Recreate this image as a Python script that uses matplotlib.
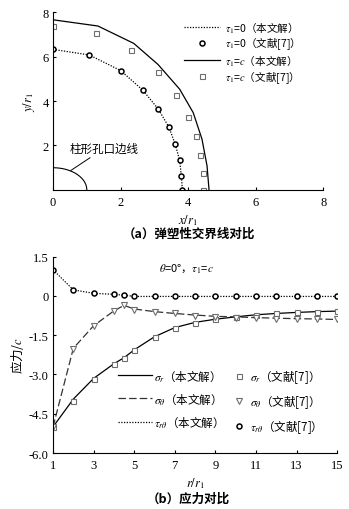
import numpy as np
import matplotlib
matplotlib.use("Agg")
import matplotlib.pyplot as plt

plt.rcParams['font.family'] = ['Liberation Serif', 'Noto Sans CJK SC']
plt.rcParams['mathtext.fontset'] = 'stix'
plt.rcParams['axes.unicode_minus'] = False
CJK = 'Noto Sans CJK SC'

# ---- (a) elastic-plastic boundary ----
x_tau0_ref = [0.0, 1.07, 2.0, 2.65, 3.11, 3.43, 3.62, 3.75, 3.80, 3.83]
y_tau0_ref = [6.32, 6.07, 5.37, 4.50, 3.65, 2.83, 2.05, 1.33, 0.63, 0.0]
x_tau0 = x_tau0_ref
y_tau0 = y_tau0_ref

x_tauc = [0.0, 1.33, 2.39, 3.11, 3.75, 4.15, 4.41, 4.56, 4.62]
y_tauc = [7.65, 7.37, 6.59, 5.64, 4.53, 3.48, 2.29, 1.09, 0.0]
x_tauc_ref = [0.0, 1.26, 2.32, 3.10, 3.64, 3.99, 4.22, 4.35, 4.43, 4.45]
y_tauc_ref = [7.37, 7.07, 6.28, 5.31, 4.26, 3.30, 2.41, 1.57, 0.75, 0.0]

hole_radius = 1.0
xticks_a = [0, 2, 4, 6, 8]
yticks_a = [2, 4, 6, 8]

# ---- (b) stresses along theta = 0 ----
r_vals = [1, 2, 3, 4, 4.5, 5, 6, 7, 8, 9, 10, 11, 12, 13, 14, 15]
sr_line = [-5.0, -3.94, -3.15, -2.59, -2.36, -2.06, -1.56, -1.21, -1.01, -0.89,
           -0.80, -0.72, -0.67, -0.63, -0.60, -0.58]
sr_ref = [-5.0, -4.0, -3.18, -2.59, -2.39, -2.06, -1.56, -1.21, -1.02, -0.89,
          -0.80, -0.72, -0.67, -0.63, -0.61, -0.58]
st_line = [-5.0, -2.0, -1.14, -0.57, -0.36, -0.50, -0.60, -0.67, -0.73, -0.78,
           -0.80, -0.83, -0.85, -0.87, -0.88, -0.90]
st_ref = [-5.0, -2.01, -1.14, -0.57, -0.36, -0.53, -0.63, -0.67, -0.76, -0.79,
          -0.83, -0.86, -0.89, -0.89, -0.89, -0.89]
trt_line = [1.0, 0.23, 0.10, 0.06, 0.03, -0.02, -0.02, -0.02, -0.02, -0.02,
            -0.02, -0.02, -0.02, -0.02, -0.02, -0.02]
trt_ref = trt_line
xticks_b = [1, 3, 5, 7, 9, 11, 13, 15]
yticks_b = [1.5, 0, -1.5, -3.0, -4.5, -6.0]

GRAY = '#6e6e6e'

fig = plt.figure(figsize=(3.49, 5.10), dpi=100)


def style_axes(ax):
    for s in ('top', 'right'):
        ax.spines[s].set_visible(False)
    for s in ('left', 'bottom'):
        ax.spines[s].set_linewidth(0.8)
    ax.tick_params(direction='in', length=2.5, width=0.8, labelsize=9)
    ax.tick_params(axis='x', pad=4)
    ax.tick_params(axis='y', pad=3)


# ---------------- (a) ----------------
ax1 = fig.add_axes([0.152, 0.6255, 0.774, 0.349])
style_axes(ax1)
th = np.linspace(0, np.pi / 2, 100)
ax1.plot(hole_radius * np.cos(th), hole_radius * np.sin(th), color='black', lw=0.8)
l1, = ax1.plot(x_tau0, y_tau0, color='black', lw=0.9, ls=(0, (1, 1.2)))
m1, = ax1.plot(x_tau0_ref, y_tau0_ref, ls='none', marker='o', ms=3.6, mfc='white',
               mec='black', mew=1.1)
l2, = ax1.plot(x_tauc, y_tauc, color='black', lw=0.9)
m2, = ax1.plot(x_tauc_ref, y_tauc_ref, ls='none', marker='s', ms=3.6, mfc='white',
               mec=GRAY, mew=0.8)
ax1.set_xlim(0, 8)
ax1.set_ylim(0, 8)
ax1.set_xticks(xticks_a)
ax1.set_yticks(yticks_a)
ax1.annotate('柱形孔口边线', xy=(0.52, 0.87), xytext=(0.49, 1.87),
             fontsize=8.3, va='center', ha='left', family=CJK,
             arrowprops=dict(arrowstyle='-', color='black', lw=0.7,
                             shrinkA=0, shrinkB=0))
ax1.set_xlabel('$x/r_1$', fontsize=9, labelpad=3)
ax1.set_ylabel('$y/r_1$', fontsize=9, labelpad=4)
ax1.legend([l1, m1, l2, m2],
           [r'$\tau_1$=0（本文解）', r'$\tau_1$=0（文献[7]）',
            r'$\tau_1$=$c$（本文解）', r'$\tau_1$=$c$（文献[7]）'],
           loc='upper left', bbox_to_anchor=(0.485, 0.962), frameon=False,
           prop=dict(family=CJK, size=7.6), handlelength=3.4,
           handletextpad=0.45, borderpad=0, labelspacing=0.08, borderaxespad=0)
fig.text(0.54, 0.541, '（a）弹塑性交界线对比', ha='center', va='center',
         fontsize=9, fontweight='bold', family=CJK)

# ---------------- (b) ----------------
ax2 = fig.add_axes([0.152, 0.1098, 0.814, 0.385])
style_axes(ax2)
h1, = ax2.plot(r_vals, sr_line, color='black', lw=0.9)
h2, = ax2.plot(r_vals, st_line, color='#333333', lw=0.9, ls=(0, (6, 2.5)))
h3, = ax2.plot(r_vals, trt_line, color='black', lw=0.9, ls=(0, (1, 1.2)))
k1, = ax2.plot(r_vals, sr_ref, ls='none', marker='s', ms=3.6, mfc='white',
               mec=GRAY, mew=0.8)
k2, = ax2.plot(r_vals, st_ref, ls='none', marker='v', ms=4.5, mfc='white',
               mec=GRAY, mew=0.8)
k3, = ax2.plot(r_vals, trt_ref, ls='none', marker='o', ms=3.6, mfc='white',
               mec='black', mew=1.1)
ax2.set_xlim(1, 15)
ax2.set_ylim(-6.0, 1.5)
ax2.set_xticks(xticks_b)
ax2.set_yticks(yticks_b)
ax2.set_yticklabels(['0' if v == 0 else f'{v:.1f}' for v in yticks_b])
ax2.text(6.2, 1.08, r'$\theta$=0°，$\tau_1$=$c$', fontsize=8, va='center',
         family=CJK)
ax2.set_xlabel('$r/r_1$', fontsize=9, labelpad=3)
ax2.set_ylabel('应力/$c$', fontsize=9, labelpad=2, family=CJK)
leg1 = ax2.legend([h1, h2, h3],
                  [r'$\sigma_r$（本文解）', r'$\sigma_\theta$（本文解）',
                   r'$\tau_{r\theta}$（本文解）'],
                  loc='upper left', bbox_to_anchor=(0.229, 0.435), frameon=False,
                  prop=dict(family=CJK, size=8.3), handlelength=2.9,
                  handletextpad=0.2, borderpad=0, labelspacing=0.72,
                  borderaxespad=0)
ax2.add_artist(leg1)
ax2.legend([k1, k2, k3],
           [r'$\sigma_r$（文献[7]）', r'$\sigma_\theta$（文献[7]）',
            r'$\tau_{r\theta}$（文献[7]）'],
           loc='upper left', bbox_to_anchor=(0.64, 0.435), frameon=False,
           prop=dict(family=CJK, size=8.3), handlelength=0.8, handletextpad=0.5,
           borderpad=0, labelspacing=0.72, borderaxespad=0)
fig.text(0.54, 0.022, '（b）应力对比', ha='center', va='center',
         fontsize=9, fontweight='bold', family=CJK)

fig.savefig('out.png', dpi=100)
